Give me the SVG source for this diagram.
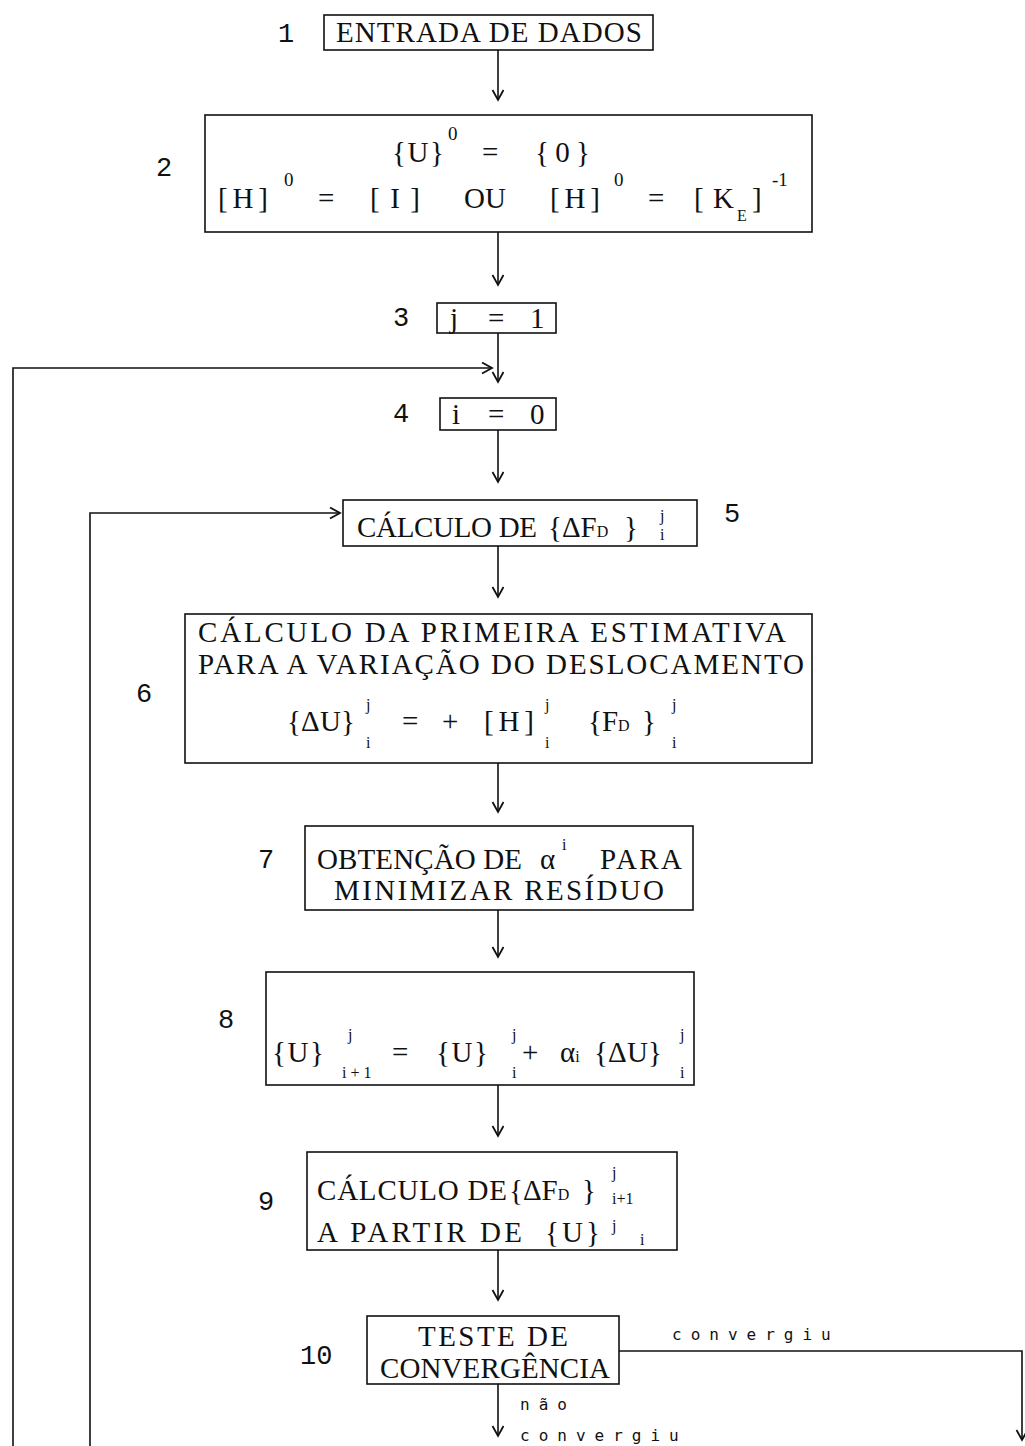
<svg xmlns="http://www.w3.org/2000/svg" width="1025" height="1446" viewBox="0 0 1025 1446">
<style>
.bx{fill:none;stroke:#111;stroke-width:1.6}
.t{font-family:"Liberation Serif","DejaVu Serif",serif;font-size:29px;fill:#111}
.n{font-family:"Liberation Mono","DejaVu Sans Mono",monospace;font-size:27px;fill:#111}
.s{font-family:"Liberation Serif","DejaVu Serif",serif;font-size:19px;fill:#111}
.ss{font-family:"Liberation Serif","DejaVu Serif",serif;font-size:16px;fill:#111}
.lb{font-family:"DejaVu Sans Mono","Liberation Mono",monospace;font-size:16px;fill:#111;letter-spacing:9px}
.c{fill:none;stroke:#111;stroke-width:1.6}
</style>
<defs>
<marker id="ah" markerUnits="userSpaceOnUse" markerWidth="16" markerHeight="16" refX="11" refY="6" orient="auto">
<path d="M1,0.5 L11,6 L1,11.5" fill="none" stroke="#111" stroke-width="1.8"/>
</marker>
</defs>
<g id="connectors">
<line class="c" x1="498" y1="50" x2="498" y2="100" marker-end="url(#ah)"/>
<line class="c" x1="498" y1="232" x2="498" y2="285" marker-end="url(#ah)"/>
<line class="c" x1="498" y1="333" x2="498" y2="382" marker-end="url(#ah)"/>
<polyline class="c" points="13,1446 13,368 492,368" marker-end="url(#ah)"/>
<line class="c" x1="498" y1="430" x2="498" y2="482" marker-end="url(#ah)"/>
<polyline class="c" points="90,1446 90,513 340,513" marker-end="url(#ah)"/>
<line class="c" x1="498" y1="546" x2="498" y2="597" marker-end="url(#ah)"/>
<line class="c" x1="498" y1="763" x2="498" y2="812" marker-end="url(#ah)"/>
<line class="c" x1="498" y1="910" x2="498" y2="957" marker-end="url(#ah)"/>
<line class="c" x1="498" y1="1085" x2="498" y2="1136" marker-end="url(#ah)"/>
<line class="c" x1="498" y1="1250" x2="498" y2="1300" marker-end="url(#ah)"/>
<line class="c" x1="498" y1="1384" x2="498" y2="1436" marker-end="url(#ah)"/>
<polyline class="c" points="619,1351 1022,1351 1022,1440" marker-end="url(#ah)"/>
<text class="lb" x="672" y="1340">convergiu</text>
<text class="lb" x="520" y="1410">não</text>
<text class="lb" x="520" y="1441">convergiu</text>
</g>
<g id="n1">
<text class="n" x="278" y="42">1</text>
<rect class="bx" x="324" y="15" width="329" height="35"/>
<text class="t" x="336" y="42" textLength="306" lengthAdjust="spacing">ENTRADA DE DADOS</text>
</g>
<g id="n2">
<text class="n" x="156" y="176">2</text>
<rect class="bx" x="205" y="115" width="607" height="117"/>
<text class="t" x="392" y="162" textLength="52" lengthAdjust="spacing">{U}</text>
<text class="s" x="448" y="140">0</text>
<text class="t" x="482" y="162">=</text>
<text class="t" x="535" y="162" textLength="55" lengthAdjust="spacing">{0}</text>
<text class="t" x="218" y="208" textLength="50" lengthAdjust="spacing">[H]</text>
<text class="s" x="284" y="186">0</text>
<text class="t" x="318" y="208">=</text>
<text class="t" x="370" y="208" textLength="50" lengthAdjust="spacing">[I]</text>
<text class="t" x="464" y="208">OU</text>
<text class="t" x="550" y="208" textLength="50" lengthAdjust="spacing">[H]</text>
<text class="s" x="614" y="186">0</text>
<text class="t" x="648" y="208">=</text>
<text class="t" x="694" y="208" textLength="40" lengthAdjust="spacing">[K</text>
<text class="ss" x="737" y="221">E</text>
<text class="t" x="752" y="208">]</text>
<text class="s" x="772" y="186">-1</text>
</g>
<g id="n3">
<text class="n" x="393" y="326">3</text>
<rect class="bx" x="437" y="303" width="119" height="30"/>
<text class="t" x="450" y="328">j</text>
<text class="t" x="488" y="328">=</text>
<text class="t" x="530" y="328">1</text>
</g>
<g id="n4">
<text class="n" x="393" y="422">4</text>
<rect class="bx" x="440" y="398" width="116" height="32"/>
<text class="t" x="452" y="424">i</text>
<text class="t" x="488" y="424">=</text>
<text class="t" x="530" y="424">0</text>
</g>
<g id="n5">
<rect class="bx" x="343" y="500" width="354" height="46"/>
<text class="t" x="357" y="537" textLength="180" lengthAdjust="spacing">CÁLCULO DE</text>
<text class="t" x="548" y="537">{ΔF<tspan class="ss">D</tspan></text>
<text class="t" x="624" y="537">}</text>
<text class="ss" x="660" y="521">j</text>
<text class="ss" x="660" y="540">i</text>
<text class="n" x="724" y="522">5</text>
</g>
<g id="n6">
<text class="n" x="136" y="702">6</text>
<rect class="bx" x="185" y="614" width="627" height="149"/>
<text class="t" x="198" y="642" textLength="588" lengthAdjust="spacing">CÁLCULO DA PRIMEIRA ESTIMATIVA</text>
<text class="t" x="198" y="674" textLength="606" lengthAdjust="spacing">PARA A VARIAÇÃO DO DESLOCAMENTO</text>
<text class="t" x="287" y="731" textLength="68" lengthAdjust="spacing">{ΔU}</text>
<text class="ss" x="366" y="710">j</text>
<text class="ss" x="366" y="748">i</text>
<text class="t" x="402" y="731">=</text>
<text class="t" x="442" y="731">+</text>
<text class="t" x="484" y="731" textLength="50" lengthAdjust="spacing">[H]</text>
<text class="ss" x="545" y="710">j</text>
<text class="ss" x="545" y="748">i</text>
<text class="t" x="588" y="731">{F<tspan class="ss">D</tspan></text>
<text class="t" x="642" y="731">}</text>
<text class="ss" x="672" y="710">j</text>
<text class="ss" x="672" y="748">i</text>
</g>
<g id="n7">
<text class="n" x="258" y="868">7</text>
<rect class="bx" x="305" y="826" width="388" height="84"/>
<text class="t" x="317" y="869" textLength="205" lengthAdjust="spacing">OBTENÇÃO DE</text>
<text class="t" x="540" y="869">α</text>
<text class="ss" x="562" y="850">i</text>
<text class="t" x="600" y="869" textLength="82" lengthAdjust="spacing">PARA</text>
<text class="t" x="334" y="900" textLength="330" lengthAdjust="spacing">MINIMIZAR RESÍDUO</text>
</g>
<g id="n8">
<text class="n" x="218" y="1028">8</text>
<rect class="bx" x="266" y="972" width="428" height="113"/>
<text class="t" x="272" y="1062" textLength="52" lengthAdjust="spacing">{U}</text>
<text class="ss" x="348" y="1040">j</text>
<text class="ss" x="342" y="1078">i + 1</text>
<text class="t" x="392" y="1062">=</text>
<text class="t" x="436" y="1062" textLength="52" lengthAdjust="spacing">{U}</text>
<text class="ss" x="512" y="1040">j</text>
<text class="ss" x="512" y="1078">i</text>
<text class="t" x="522" y="1062">+</text>
<text class="t" x="560" y="1062">α<tspan class="ss">i</tspan></text>
<text class="t" x="594" y="1062" textLength="68" lengthAdjust="spacing">{ΔU}</text>
<text class="ss" x="680" y="1040">j</text>
<text class="ss" x="680" y="1078">i</text>
</g>
<g id="n9">
<text class="n" x="258" y="1210">9</text>
<rect class="bx" x="307" y="1152" width="370" height="98"/>
<text class="t" x="317" y="1200" textLength="190" lengthAdjust="spacing">CÁLCULO DE</text>
<text class="t" x="509" y="1200">{ΔF<tspan class="ss">D</tspan></text>
<text class="t" x="582" y="1200">}</text>
<text class="ss" x="612" y="1178">j</text>
<text class="ss" x="612" y="1204">i+1</text>
<text class="t" x="317" y="1242" textLength="205" lengthAdjust="spacing">A PARTIR DE</text>
<text class="t" x="545" y="1242" textLength="55" lengthAdjust="spacing">{U}</text>
<text class="ss" x="612" y="1231">j</text>
<text class="ss" x="640" y="1245">i</text>
</g>
<g id="n10">
<text class="n" x="300" y="1364">10</text>
<rect class="bx" x="367" y="1316" width="252" height="68"/>
<text class="t" x="418" y="1346" textLength="150" lengthAdjust="spacing">TESTE DE</text>
<text class="t" x="380" y="1378" textLength="230" lengthAdjust="spacing">CONVERGÊNCIA</text>
</g>
</svg>
